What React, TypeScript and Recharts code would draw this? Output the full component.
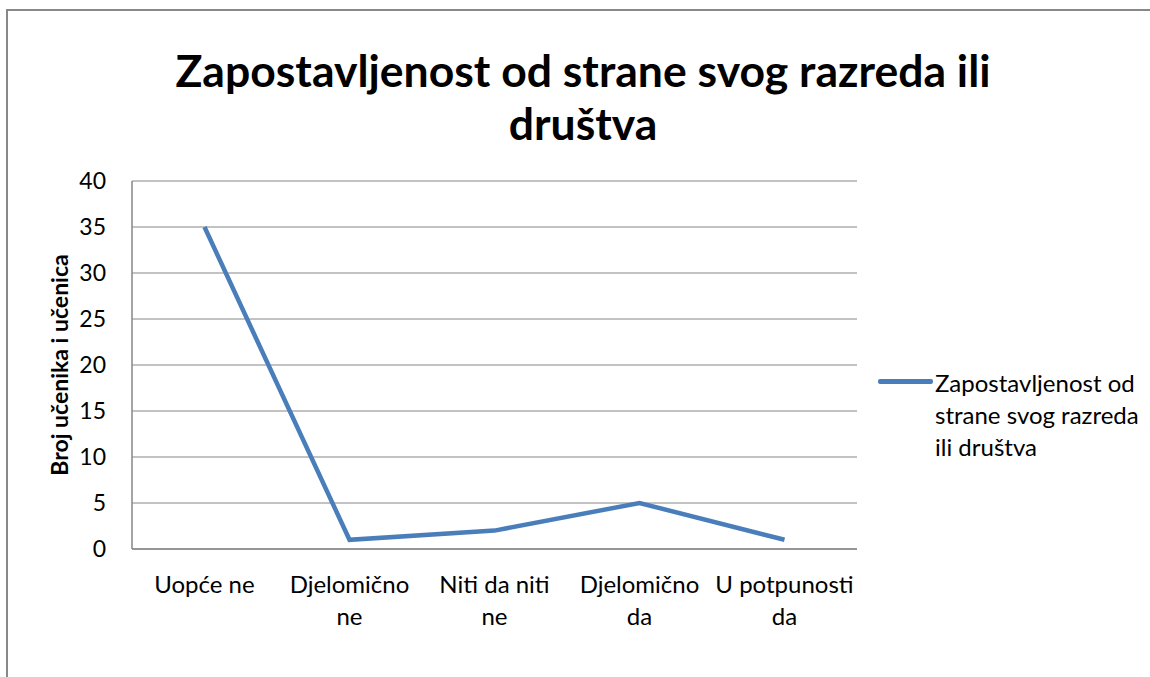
import React from "react";
import { LineChart, Line, XAxis, YAxis, CartesianGrid } from "recharts";

const categories = ["Uopće ne", "Djelomično ne", "Niti da niti ne", "Djelomično da", "U potpunosti da"];
const tickLines = [["Uopće ne"], ["Djelomično", "ne"], ["Niti da niti", "ne"], ["Djelomično", "da"], ["U potpunosti", "da"]];
const values = [35, 1, 2, 5, 1];
const yTicks = [0, 5, 10, 15, 20, 25, 30, 35, 40];
const seriesName = "Zapostavljenost od strane svog razreda ili društva";
const legendLines = ["Zapostavljenost od", "strane svog razreda", "ili društva"];
const titleLines = ["Zapostavljenost od strane svog razreda ili", "društva"];

const data = categories.map((c, i) => ({ cat: c, v: values[i] }));
const font = "Lato, 'Open Sans', sans-serif";
const lineColor = "#4A7EBB";
const gridColor = "#868686";

function XTick(props: any) {
  const { x, y, payload, index } = props;
  const lines = tickLines[index] || [payload.value];
  return (
    <text x={x} y={y} textAnchor="middle" fontFamily={font} fontSize={24} fill="#000">
      {lines.map((l: string, i: number) => (
        <tspan key={i} x={x} dy={i === 0 ? 36 : 32}>{l}</tspan>
      ))}
    </text>
  );
}

export default function App() {
  return (
    <div style={{ position: "fixed", left: 0, top: 0, width: 1150, height: 677, background: "#fff", overflow: "hidden" }}>
      <div style={{ position: "absolute", left: 6, top: 9, width: 1200, height: 720, border: "2px solid #888", boxSizing: "border-box" }} />
      <div style={{ position: "absolute", left: 0, top: 43, width: 1166, textAlign: "center", fontFamily: font, fontWeight: 700, fontSize: 44.5, lineHeight: "53px", color: "#000" }}>
        {titleLines.map((t, i) => <div key={i}>{t}</div>)}
      </div>
      <div style={{ position: "absolute", left: 0, top: 0 }}>
        <LineChart width={1150} height={677} data={data} margin={{ top: 181, right: 293, bottom: 98, left: 72 }}>
          <CartesianGrid horizontal vertical={false} stroke={gridColor} strokeWidth={1} />
          <XAxis dataKey="cat" tick={<XTick />} tickLine={false} axisLine={{ stroke: gridColor, strokeWidth: 1.5 }} interval={0} height={30} padding={{ left: 72.5, right: 72.5 }} />
          <YAxis domain={[0, 40]} ticks={yTicks} width={60} tickLine={false} axisLine={{ stroke: gridColor, strokeWidth: 1.5 }}
            tick={{ fontFamily: font, fontSize: 23, fill: "#000" }} tickMargin={20}
            label={{ value: "Broj učenika i učenica", angle: -90, position: "left", offset: 12, style: { fontFamily: font, fontWeight: 700, fontSize: 23, fill: "#000", textAnchor: "middle" } }} />
          <Line type="linear" dataKey="v" name={seriesName} stroke={lineColor} strokeWidth={4.5} dot={false} isAnimationActive={false} />
        </LineChart>
      </div>
      <div style={{ position: "absolute", left: 878, top: 367, display: "flex", alignItems: "flex-start", fontFamily: font, fontSize: 24, color: "#000", lineHeight: "32px" }}>
        <div style={{ width: 55, height: 4.5, background: lineColor, marginTop: 12, borderRadius: 2 }} />
        <div style={{ width: 240, marginLeft: 2 }}>
          {legendLines.map((t, i) => <div key={i}>{t}</div>)}
        </div>
      </div>
    </div>
  );
}
